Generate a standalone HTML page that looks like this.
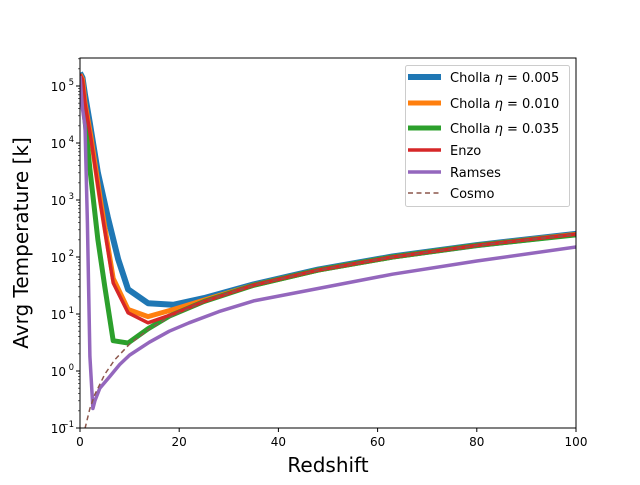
<!DOCTYPE html>
<html><head><meta charset="utf-8"><style>
body{margin:0;background:#fff}
svg text{font-family:"DejaVu Sans","Liberation Sans",sans-serif;fill:#000}
</style></head><body>
<svg id="chart" width="640" height="480" xmlns="http://www.w3.org/2000/svg">
<rect width="640" height="480" fill="#fff"/>
<g id="plot"></g>
<g id="axes"></g>
<text x="328" y="472" font-size="20" text-anchor="middle">Redshift</text>
<text x="0" y="0" font-size="20" text-anchor="middle" transform="translate(28,243) rotate(-90)">Avrg Temperature [k]</text>
<g id="legend"></g>
</svg>
<script>
const xTicks=[0,20,40,60,80,100];
const yDecades=[-1,0,1,2,3,4,5];
const blueZ=[0,0.5,1,2,3.6,5.6,7.7,9.7,13.7,18.8,25,35,48,63,80,100];
const blueT=[1.7e5,1.4e5,7e4,2.2e4,3000,500,91,27,15.5,14.5,19,33,60,102,162,255];
const orangeZ=[0,0.5,1,2.2,4.2,6.7,9.7,13.7,18.8,25,35,48,63,80,100];
const orangeT=[1.6e5,1.3e5,5e4,1.3e4,900,42,12,9,12,17.5,32,59,100,160,250];
const greenZ=[0,1,2,3.6,5,6.7,9.7,13.7,18,25,35,48,63,80,100];
const greenT=[1.5e5,2.5e4,3500,200,30,3.4,3.1,5.5,9.2,16.6,31.9,58.8,100,160,245];
const redZ=[0,0.5,1,2.2,4.2,6.7,9.7,13.7,18.8,25,35,48,63,80,100];
const redT=[1.6e5,1.3e5,5e4,1.2e4,800,35,10.5,7,10,16.6,32,59,100,160,250];
const ramsesZ=[0,0.5,1,1.5,2,2.6,3,4,6,8,10,14,18,22,28,35,48,63,80,100];
const ramsesT=[1.5e5,4e4,2e4,400,1.8,0.22,0.3,0.5,0.8,1.3,1.9,3.2,5,7,11,17,28,50,85,150];
const cosmoZ=[1,2,3,5,7,10,14,18,25,35,48,63,80,100];
const cosmoT=[0.098,0.22,0.39,0.88,1.57,2.97,5.5,8.8,16.6,31.9,58.8,100,160,250];
const seriesNames=["0.005","0.010","0.035","Enzo","Ramses","Cosmo"];

const NS="http://www.w3.org/2000/svg";
const X0=80,X1=576,Y0=58,Y1=428;
function xs(z){return X0+(z/100)*(X1-X0);}
function ys(t){return Y1-57*(Math.log10(t)+1);}
function mk(tag,attrs,parent){const e=document.createElementNS(NS,tag);for(const k in attrs)e.setAttribute(k,attrs[k]);parent.appendChild(e);return e;}
const plot=document.getElementById('plot'),axes=document.getElementById('axes'),legend=document.getElementById('legend');
const defs=mk('defs',{},plot);
const cp=mk('clipPath',{id:'clip'},defs);mk('rect',{x:X0,y:Y0,width:X1-X0,height:Y1-Y0},cp);
const g=mk('g',{'clip-path':'url(#clip)'},plot);
const series=[
 {z:blueZ,t:blueT,c:'#1f77b4',w:6,n:'series-cholla-0005'},
 {z:orangeZ,t:orangeT,c:'#ff7f0e',w:5,n:'series-cholla-0010'},
 {z:greenZ,t:greenT,c:'#2ca02c',w:5,n:'series-cholla-0035'},
 {z:redZ,t:redT,c:'#d62728',w:3.5,n:'series-enzo'},
 {z:ramsesZ,t:ramsesT,c:'#9467bd',w:3.5,n:'series-ramses'},
 {z:cosmoZ,t:cosmoT,c:'#8c564b',w:1.5,n:'series-cosmo',dash:'5,3.5'}
];
series.forEach(s=>{
 const d=s.z.map((z,i)=>(i?'L':'M')+xs(z).toFixed(1)+','+ys(s.t[i]).toFixed(1)).join('');
 const p=mk('path',{d:d,fill:'none',stroke:s.c,'stroke-width':s.w,'stroke-linejoin':'round'},g);
 if(s.dash)p.setAttribute('stroke-dasharray',s.dash);
 
 
});
mk('rect',{x:X0,y:Y0,width:X1-X0,height:Y1-Y0,fill:'none',stroke:'#000','stroke-width':1},axes);
xTicks.forEach(v=>{
 const x=xs(v);
 mk('line',{x1:x,x2:x,y1:Y1,y2:Y1+4,stroke:'#000'},axes);
 const t=mk('text',{x:x,y:Y1+18,'font-size':12,'text-anchor':'middle'},axes);t.textContent=v;
 
 
});
yDecades.forEach(d=>{
 const y=ys(Math.pow(10,d));
 mk('line',{x1:X0-4,x2:X0,y1:y,y2:y,stroke:'#000'},axes);
 const t=mk('text',{x:X0-14,y:y+5,'font-size':12,'text-anchor':'end'},axes);
 t.textContent='10';
 
 
 const s=mk('text',{x:X0-6,y:y-1,'font-size':8.5,'text-anchor':'end'},axes);s.textContent=String(d).replace('-','−');
 for(let m=2;m<10;m++){const yy=ys(m*Math.pow(10,d));if(yy>=Y0)mk('line',{x1:X0-2,x2:X0,y1:yy,y2:yy,stroke:'#000','stroke-width':0.6},axes);}
});
mk('rect',{x:405.5,y:65.5,width:164,height:141,rx:2,fill:'#fff','fill-opacity':0.8,stroke:'#ccc'},legend);
const rows=[77,103,128,150,172,193];
series.forEach((s,i)=>{
 const l=mk('line',{x1:408,x2:441,y1:rows[i],y2:rows[i],stroke:s.c,'stroke-width':s.w},legend);
 if(s.dash)l.setAttribute('stroke-dasharray',s.dash);
 const t=mk('text',{x:450,y:rows[i]+5,'font-size':13},legend);
 if(i<3){
  t.appendChild(document.createTextNode('Cholla '));
  const ts=mk('tspan',{'font-style':'italic'},t);ts.textContent='η';
  t.appendChild(document.createTextNode(' = '+seriesNames[i]));
 } else t.textContent=seriesNames[i];
 
 
});
</script>
</body></html>
